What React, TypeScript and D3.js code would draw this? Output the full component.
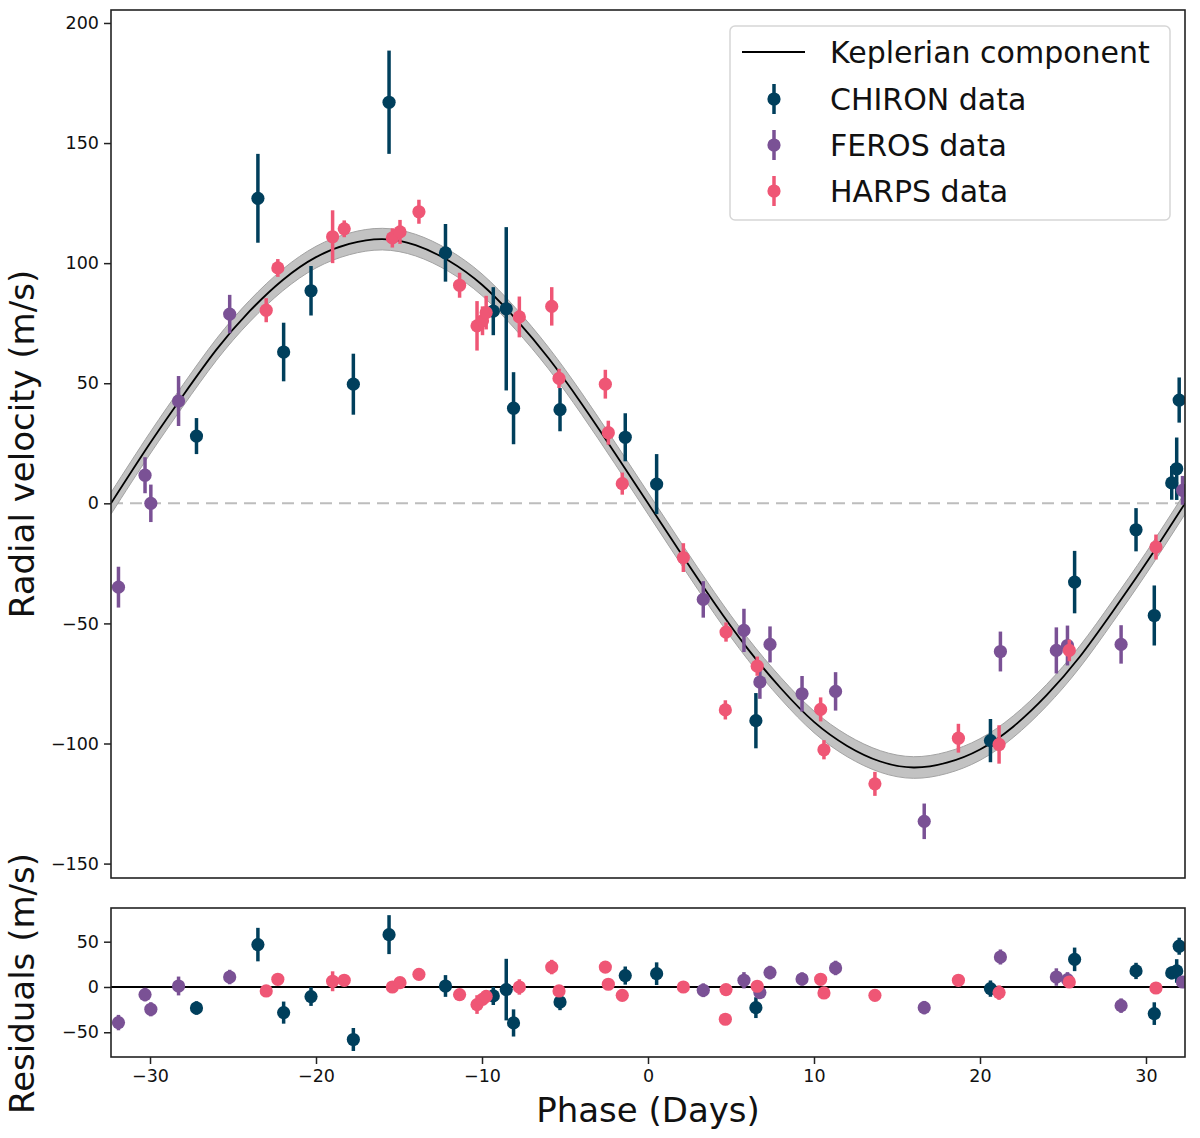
import React, { useEffect, useRef } from 'react';
import * as d3 from 'd3';

// Keplerian model curve (phase in days, RV in m/s)
const CURVE_PHASE = [-32.35, -30, -28, -26, -24, -22, -20, -18, -16, -14, -12, -10, -8, -6, -4, -2, 0,
  2, 4, 6, 8, 10, 12, 14, 16, 18, 20, 22, 24, 26, 28, 30, 32.35];
const CURVE_RV = [0, 25, 45, 64, 80, 93, 102.5, 108, 110, 107.5, 101, 91, 77, 60.5, 41.5, 21, 0,
  -21, -41.5, -60.5, -77, -91, -101, -107.5, -110, -108, -102.5, -93, -80, -64, -45, -25, 0];
const CURVE_SIGMA = 4.5;

// CHIRON
const CHIRON_PHASE = [-27.2, -23.5, -21.95, -20.3, -17.75, -15.6, -12.2, -9.32, -8.54, -8.1, -5.3, -1.37, 0.52,
  6.5, 20.63, 25.7, 29.4, 30.5, 31.55, 31.85, 32.0];
const CHIRON_RV = [28, 127, 63, 88.5, 49.6, 167, 104.3, 80, 81, 39.6, 39, 27.5, 8,
  -90.5, -98.8, -32.8, -11, -46.7, 8.5, 14.4, 43];
const CHIRON_ERR = [7.5, 18.5, 12.2, 10.3, 12.7, 21.5, 12, 10, 34, 15, 9, 10, 12.5,
  11.5, 9, 13, 9, 12.5, 7, 13, 9.4];
const CHIRON_RES = [-23.2, 46.8, -28.3, -10.6, -58, 57.8, 1.1, -9.9, -2.9, -39.7, -16.6, 12.6, 14.7,
  -22.8, -1.8, 30.5, 17.7, -29.4, 15.5, 17.7, 45];

// FEROS
const FEROS_PHASE = [-31.9, -30.3, -29.95, -28.28, -25.2, 3.33, 5.78, 6.74, 7.35, 9.28, 11.3, 16.64,
  21.23, 24.6, 25.27, 28.5, 32.2];
const FEROS_RV = [-34.9, 11.7, 0, 42.6, 78.8, -40, -52.9, -74.4, -58.75, -79.3, -78.3, -132.4,
  -61.7, -61.25, -59.2, -58.75, 5.4];
const FEROS_ERR = [8.5, 7.5, 7.8, 10.4, 8, 7.6, 9, 7, 7.5, 7.4, 8, 7.4, 8.3, 9.6, 8.3, 8, 6];
const FEROS_RES = [-39.3, -8.4, -24.6, 1.1, 11, -3.6, 7.4, -6.2, 15.9, 8.8, 21, -22.8,
  33.1, 11, 8.1, -20.6, 5.5];

// HARPS
const HARPS_PHASE = [-23.0, -22.3, -19.0, -18.3, -15.4, -14.94, -13.8, -11.35, -10.3, -9.97, -9.75, -7.75,
  -5.8, -5.36, -2.57, -2.39, -1.55, 2.13, 4.66, 4.7, 6.58, 10.4, 10.6, 13.67, 18.7, 21.15, 25.38, 30.6];
const HARPS_RV = [80.4, 98, 111, 114.3, 110.5, 113, 121.4, 90.8, 73.9, 76, 79.4, 77.6,
  82, 52, 49.6, 29.4, 8.2, -22.6, -86, -53.6, -67.8, -85.8, -102.6, -116.8, -97.8, -100.4, -61.25, -18.2];
const HARPS_ERR = [5, 3.7, 11, 3.5, 4, 5, 5, 5.2, 10.3, 6, 7, 8.5,
  8, 4, 6, 5, 4.6, 6, 4, 4, 4, 5, 4, 5, 6, 8, 4.5, 5.2];
const HARPS_RES = [-4.4, 8.5, 6.3, 7.4, 0, 4.8, 14, -8.4, -19.4, -13.6, -10.3, 0,
  22, -4.4, 22, 3, -9.2, 0, -35.6, -2.9, 0.8, 8.5, -6.6, -9.2, 7.4, -6.2, 5.5, -1.1];

const RV_TICKS = [-150, -100, -50, 0, 50, 100, 150, 200];
const RES_TICKS = [-50, 0, 50];
const PHASE_TICKS = [-30, -20, -10, 0, 10, 20, 30];

const SERIES = [
  { label: 'CHIRON data', color: '#003f5c', phase: CHIRON_PHASE, rv: CHIRON_RV, err: CHIRON_ERR, res: CHIRON_RES },
  { label: 'FEROS data', color: '#7a5195', phase: FEROS_PHASE, rv: FEROS_RV, err: FEROS_ERR, res: FEROS_RES },
  { label: 'HARPS data', color: '#ef5675', phase: HARPS_PHASE, rv: HARPS_RV, err: HARPS_ERR, res: HARPS_RES },
];

const W = 1200;
const H = 1138;
const FONT = 'DejaVu Sans, sans-serif';

const App: React.FC = () => {
  const svgRef = useRef<SVGSVGElement>(null);

  useEffect(() => {
    if (!svgRef.current) return;
    const svg = d3.select(svgRef.current);
    svg.selectAll('*').remove();

    const left = 111, right = 1185;
    const mainTop = 10, mainBottom = 878;
    const resTop = 908, resBottom = 1057;

    const x = d3.scaleLinear().domain([-32.35, 32.35]).range([left, right]);
    const yMain = d3.scaleLinear().domain([-156, 205.4]).range([mainBottom, mainTop]);
    const yRes = d3.scaleLinear().domain([-77.3, 87.2]).range([resBottom, resTop]);

    const defs = svg.append('defs');
    defs.append('clipPath').attr('id', 'clip-main')
      .append('rect').attr('x', left).attr('y', mainTop).attr('width', right - left).attr('height', mainBottom - mainTop);
    defs.append('clipPath').attr('id', 'clip-res')
      .append('rect').attr('x', left).attr('y', resTop).attr('width', right - left).attr('height', resBottom - resTop);

    svg.append('rect').attr('width', W).attr('height', H).attr('fill', '#fff');

    // ---------- main panel ----------
    const gMain = svg.append('g').attr('clip-path', 'url(#clip-main)');

    gMain.append('line')
      .attr('x1', left).attr('x2', right)
      .attr('y1', yMain(0)).attr('y2', yMain(0))
      .attr('stroke', '#bdbdbd').attr('stroke-width', 2)
      .attr('stroke-dasharray', '12,7');

    const curve = CURVE_PHASE.map((p, i) => ({ p, v: CURVE_RV[i] }));
    const band = d3.area<{ p: number; v: number }>()
      .x(d => x(d.p))
      .y0(d => yMain(d.v - CURVE_SIGMA))
      .y1(d => yMain(d.v + CURVE_SIGMA))
      .curve(d3.curveNatural);
    gMain.append('path').datum(curve)
      .attr('d', band)
      .attr('fill', '#c2c2c2')
      .attr('stroke', '#a3a3a3')
      .attr('stroke-width', 1);

    const line = d3.line<{ p: number; v: number }>()
      .x(d => x(d.p))
      .y(d => yMain(d.v))
      .curve(d3.curveNatural);
    gMain.append('path').datum(curve)
      .attr('d', line)
      .attr('fill', 'none')
      .attr('stroke', '#000')
      .attr('stroke-width', 1.8);

    const drawPoints = (g: d3.Selection<SVGGElement, unknown, null, undefined>, y: d3.ScaleLinear<number, number>, useRes: boolean) => {
      SERIES.forEach(s => {
        const pts = s.phase.map((p, i) => ({ p, v: useRes ? s.res[i] : s.rv[i], e: s.err[i] }));
        const sg = g.append('g');
        sg.selectAll('line.err').data(pts).enter().append('line')
          .attr('x1', d => x(d.p)).attr('x2', d => x(d.p))
          .attr('y1', d => y(d.v - d.e)).attr('y2', d => y(d.v + d.e))
          .attr('stroke', s.color).attr('stroke-width', 3.5);
        sg.selectAll('circle').data(pts).enter().append('circle')
          .attr('cx', d => x(d.p)).attr('cy', d => y(d.v))
          .attr('r', 6.6).attr('fill', s.color);
      });
    };
    drawPoints(gMain, yMain, false);

    // ---------- residual panel ----------
    const gRes = svg.append('g').attr('clip-path', 'url(#clip-res)');
    gRes.append('line')
      .attr('x1', left).attr('x2', right)
      .attr('y1', yRes(0)).attr('y2', yRes(0))
      .attr('stroke', '#000').attr('stroke-width', 1.8);
    drawPoints(gRes, yRes, true);

    // ---------- frames and axes ----------
    const frame = (top: number, bottom: number) => svg.append('rect')
      .attr('x', left).attr('y', top).attr('width', right - left).attr('height', bottom - top)
      .attr('fill', 'none').attr('stroke', '#222').attr('stroke-width', 1.6);
    frame(mainTop, mainBottom);
    frame(resTop, resBottom);

    const styleAxis = (g: d3.Selection<SVGGElement, unknown, null, undefined>) => {
      g.select('.domain').remove();
      g.selectAll('.tick line').attr('stroke', '#222').attr('stroke-width', 1.5);
      g.selectAll('.tick text').attr('font-family', FONT).attr('font-size', 17.5).attr('fill', '#111');
    };

    svg.append('g').attr('transform', `translate(${left},0)`)
      .call(d3.axisLeft(yMain).tickValues(RV_TICKS).tickSize(7).tickPadding(5).tickFormat(d => d3.format('')(d as number).replace('-', '\u2212')))
      .call(styleAxis);
    svg.append('g').attr('transform', `translate(${left},0)`)
      .call(d3.axisLeft(yRes).tickValues(RES_TICKS).tickSize(7).tickPadding(5).tickFormat(d => d3.format('')(d as number).replace('-', '\u2212')))
      .call(styleAxis);
    svg.append('g').attr('transform', `translate(0,${resBottom})`)
      .call(d3.axisBottom(x).tickValues(PHASE_TICKS).tickSize(7).tickPadding(6).tickFormat(d => d3.format('')(d as number).replace('-', '\u2212')))
      .call(styleAxis);

    // ---------- labels ----------
    svg.append('text')
      .attr('transform', `translate(34,${(mainTop + mainBottom) / 2}) rotate(-90)`)
      .attr('text-anchor', 'middle')
      .attr('font-family', FONT).attr('font-size', 34).attr('fill', '#111')
      .text('Radial velocity (m/s)');
    svg.append('text')
      .attr('transform', `translate(34,${(resTop + resBottom) / 2 + 1}) rotate(-90)`)
      .attr('text-anchor', 'middle')
      .attr('font-family', FONT).attr('font-size', 34).attr('fill', '#111')
      .text('Residuals (m/s)');
    svg.append('text')
      .attr('x', x(0)).attr('y', 1122)
      .attr('text-anchor', 'middle')
      .attr('font-family', FONT).attr('font-size', 34).attr('fill', '#111')
      .text('Phase (Days)');

    // ---------- legend ----------
    const lg = svg.append('g');
    lg.append('rect')
      .attr('x', 730).attr('y', 26).attr('width', 440).attr('height', 194).attr('rx', 5)
      .attr('fill', '#fff').attr('fill-opacity', 0.8)
      .attr('stroke', '#d6d6d6').attr('stroke-width', 1.5);
    const rowY = [52, 99, 145, 191];
    lg.append('line')
      .attr('x1', 742).attr('x2', 805).attr('y1', rowY[0]).attr('y2', rowY[0])
      .attr('stroke', '#000').attr('stroke-width', 1.8);
    lg.append('text')
      .attr('x', 830).attr('y', rowY[0]).attr('dy', '0.36em')
      .attr('font-family', FONT).attr('font-size', 30).attr('fill', '#111')
      .text('Keplerian component');
    SERIES.forEach((s, i) => {
      const yy = rowY[i + 1];
      lg.append('line').attr('x1', 774).attr('x2', 774).attr('y1', yy - 15).attr('y2', yy + 15)
        .attr('stroke', s.color).attr('stroke-width', 3.5);
      lg.append('circle').attr('cx', 774).attr('cy', yy).attr('r', 6.6).attr('fill', s.color);
      lg.append('text')
        .attr('x', 830).attr('y', yy).attr('dy', '0.36em')
        .attr('font-family', FONT).attr('font-size', 30).attr('fill', '#111')
        .text(s.label);
    });
  }, []);

  return (
    <svg
      ref={svgRef}
      width={W}
      height={H}
      style={{ position: 'absolute', left: 0, top: 0, display: 'block' }}
    />
  );
};

export default App;
